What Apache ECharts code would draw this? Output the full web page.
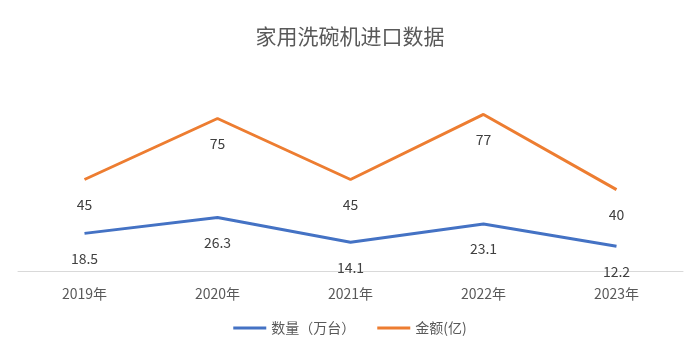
<!DOCTYPE html>
<html><head><meta charset="utf-8">
<script src="https://cdn.jsdelivr.net/npm/echarts@6/dist/echarts.min.js"></script>
<style>html,body{margin:0;padding:0;background:#fff}#c{width:700px;height:355px}</style>
</head><body><div id="c"></div>
<script>
var categories = ['2019年','2020年','2021年','2022年','2023年'];
var quantity = [18.5, 26.3, 14.1, 23.1, 12.2];
var amount = [45, 75, 45, 77, 40];
var font = '"Noto Sans CJK SC", "Noto Sans", sans-serif';
var chart = echarts.init(document.getElementById('c'));
chart.setOption({
  animation: false,
  title: {text: '家用洗碗机进口数据', left: 'center', top: 21,
    textStyle: {fontSize: 21, fontWeight: 'normal', color: '#595959', fontFamily: font}},
  grid: {left: 18, right: 17, top: 88, bottom: 84},
  legend: {bottom: 15, left: 'center', itemWidth: 33, itemHeight: 3, itemGap: 22, icon: 'rect',
    textStyle: {fontSize: 14, color: '#595959', fontFamily: font},
    data: ['数量（万台）','金额(亿)']},
  xAxis: {type: 'category', data: categories, boundaryGap: true,
    axisLine: {lineStyle: {color: '#d9d9d9', width: 1}}, axisTick: {show: false},
    axisLabel: {fontSize: 14, color: '#595959', fontFamily: font, margin: 16}},
  yAxis: {type: 'value', min: 0, max: 90, show: false, splitLine: {show: false}},
  series: [
    {name: '数量（万台）', type: 'line', data: quantity, symbol: 'circle', symbolSize: 0,
     lineStyle: {color: '#4472C4', width: 3}, itemStyle: {color: '#4472C4'},
     label: {show: true, position: 'bottom', distance: 18, fontSize: 14, color: '#404040', fontFamily: font}},
    {name: '金额(亿)', type: 'line', data: amount, symbol: 'circle', symbolSize: 0,
     lineStyle: {color: '#ED7D31', width: 3}, itemStyle: {color: '#ED7D31'},
     label: {show: true, position: 'bottom', distance: 18, fontSize: 14, color: '#404040', fontFamily: font}}
  ]
});
</script></body></html>
